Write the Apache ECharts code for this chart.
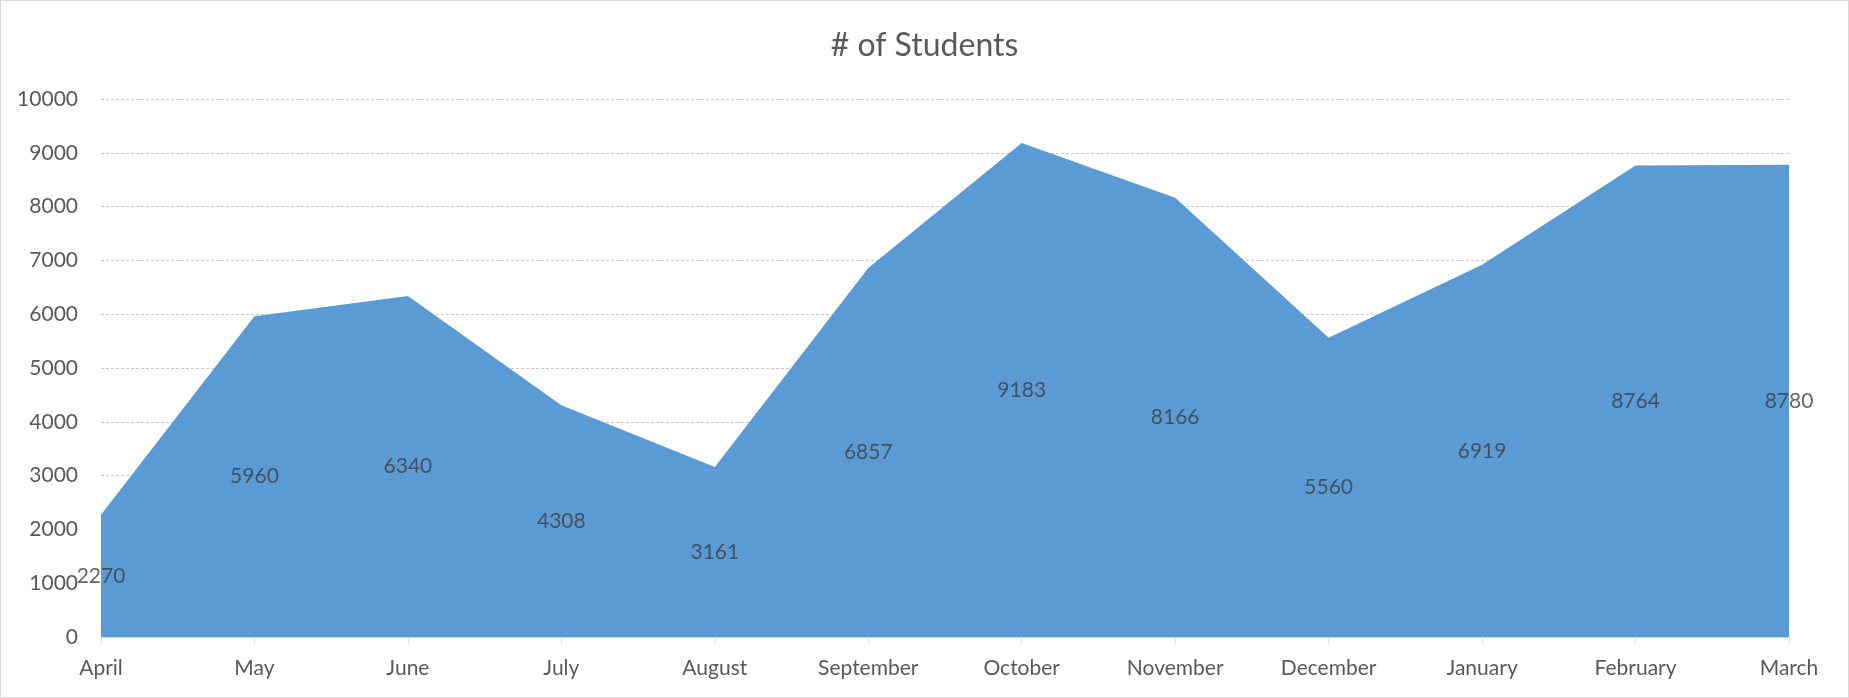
<!DOCTYPE html>
<html lang="en">
<head>
  <meta charset="UTF-8">
  <title># of Students</title>
  <script src="https://cdn.jsdelivr.net/npm/echarts@6/dist/echarts.min.js"></script>
  <style>
    html, body { margin: 0; padding: 0; background: #fff; }
    #main { width: 1849px; height: 698px; box-sizing: border-box; border: 1px solid #d9d9d9; }
  </style>
</head>
<body>
<div id="main"></div>
<script>
  // chart data
  var months = ['April', 'May', 'June', 'July', 'August', 'September', 'October',
                'November', 'December', 'January', 'February', 'March'];
  var students = [2270, 5960, 6340, 4308, 3161, 6857, 9183, 8166, 5560, 6919, 8764, 8780];
  var yTicks = { min: 0, max: 10000, interval: 1000 };

  var textFont = 'Lato, "Open Sans", sans-serif';
  var myChart = echarts.init(document.getElementById('main'));

  // Excel puts area labels half way up the area
  var labelPos = students.map(function (v) { return v / 2; });

  var option = {
    animation: false,
    title: {
      text: '# of Students',
      left: 'center',
      top: 24,
      textStyle: { fontFamily: textFont, fontSize: 32, fontWeight: 'normal', color: '#595959' }
    },
    grid: { left: 100, right: 59, top: 98, bottom: 60 },
    xAxis: {
      type: 'category',
      data: months,
      boundaryGap: false,
      axisLine: { lineStyle: { color: '#d9d9d9', width: 1 } },
      axisTick: { show: true, length: 6, lineStyle: { color: '#d9d9d9' } },
      axisLabel: { fontFamily: textFont, fontSize: 21, color: '#595959', margin: 21 },
      splitLine: { show: false }
    },
    yAxis: {
      type: 'value',
      min: yTicks.min,
      max: yTicks.max,
      interval: yTicks.interval,
      axisLine: { show: false },
      axisTick: { show: false },
      axisLabel: {
        fontFamily: textFont, fontSize: 21, color: '#595959', margin: 23,
        formatter: function (v) { return String(v); }
      },
      splitLine: { lineStyle: { color: '#c8c8c8', type: [3, 2], width: 1 } }
    },
    series: [
      {
        name: '# of Students',
        type: 'line',
        data: students,
        symbol: 'none',
        lineStyle: { width: 0, color: '#5b9bd5' },
        itemStyle: { color: '#5b9bd5' },
        areaStyle: { color: '#5b9bd5', opacity: 1 },
        z: 2
      },
      {
        name: 'labels',
        type: 'scatter',
        data: labelPos,
        symbolSize: 0,
        silent: true,
        z: 5,
        label: {
          show: true,
          position: 'inside',
          fontFamily: textFont,
          fontSize: 21,
          color: '#404040',
          formatter: function (p) { return students[p.dataIndex]; }
        }
      }
    ]
  };

  option && myChart.setOption(option);
</script>
</body>
</html>
